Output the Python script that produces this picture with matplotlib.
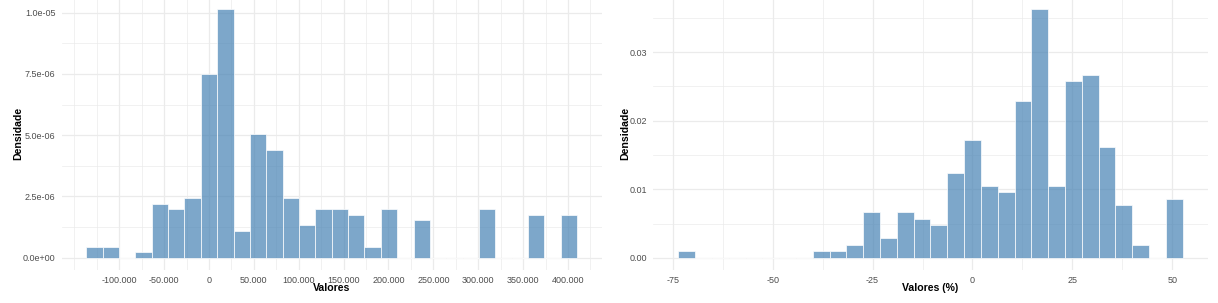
import numpy as np
import matplotlib
matplotlib.use("Agg")
import matplotlib.pyplot as plt
from matplotlib.ticker import FuncFormatter

# ---------------- data ----------------
# Left histogram (Valores): 30 bins
left_bin_start = -136700
left_bin_width = 18230
left_counts = [2, 2, 0, 1, 10, 9, 11, 34, 46, 5, 23, 20, 11, 6, 9, 9, 8, 2, 9, 0,
               7, 0, 0, 0, 9, 0, 0, 8, 0, 8]
left_major_ticks = [-100000, -50000, 0, 50000, 100000, 150000, 200000, 250000,
                    300000, 350000, 400000]
left_y_ticks = [0.0, 2.5e-6, 5.0e-6, 7.5e-6, 1.0e-5]

# Right histogram (Valores %): 30 bins
right_bin_start = -73.65
right_bin_width = 4.21
right_counts = [1, 0, 0, 0, 0, 0, 0, 0, 1, 1, 2, 7, 3, 7, 6, 5, 13, 18, 11, 10,
                24, 38, 11, 27, 28, 17, 8, 2, 0, 9]
right_major_ticks = [-75, -50, -25, 0, 25, 50]
right_y_ticks = [0.00, 0.01, 0.02, 0.03]

x_labels = ["Valores", "Valores (%)"]
y_label = "Densidade"

# ---------------- style ----------------
plt.rcParams['font.family'] = ['Liberation Sans', 'DejaVu Sans']
FILL = "#4682B4"
GRID = "#EBEBEB"
TICK_COL = "#4D4D4D"

W, H = 1218, 303
fig = plt.figure(figsize=(W / 100, H / 100), dpi=100)

def px_axes(x0, x1, top, bottom):
    return fig.add_axes([x0 / W, (H - bottom) / H, (x1 - x0) / W, (bottom - top) / H])

def draw_hist(ax, start, width, counts, majors, yticks, xfmt, yfmt, xlabel,
              ylab_x):
    n = len(counts)
    edges = start + width * np.arange(n + 1)
    centers = (edges[:-1] + edges[1:]) / 2
    dens, _, _ = ax.hist(centers, bins=edges, weights=counts, density=True,
                         color=FILL, alpha=0.7, edgecolor="white",
                         linewidth=0.7, zorder=3)
    # ggplot-like expansion
    xmin, xmax = edges[0], edges[-1]
    xr = xmax - xmin
    ax.set_xlim(xmin - 0.05 * xr, xmax + 0.05 * xr)
    ymax = dens.max()
    ax.set_ylim(-0.05 * ymax, 1.05 * ymax)

    # major / minor grid
    step = majors[1] - majors[0]
    lo, hi = ax.get_xlim()
    minors_x = np.arange(majors[0] - step, majors[-1] + step + 1e-9, step / 2)
    minors_x = [m for m in minors_x if lo <= m <= hi and
                not any(abs(m - M) < 1e-9 for M in majors)]
    ystep = yticks[1] - yticks[0]
    ylo, yhi = ax.get_ylim()
    minors_y = np.arange(yticks[0] - ystep, yticks[-1] + ystep * 1.0001, ystep / 2)
    minors_y = [m for m in minors_y if ylo <= m <= yhi and
                not any(abs(m - M) < ystep * 1e-6 for M in yticks)]
    for m in minors_x:
        ax.axvline(m, color=GRID, lw=0.5, zorder=0)
    for m in minors_y:
        ax.axhline(m, color=GRID, lw=0.5, zorder=0)
    for m in majors:
        ax.axvline(m, color=GRID, lw=0.9, zorder=0)
    for m in yticks:
        ax.axhline(m, color=GRID, lw=0.9, zorder=0)

    ax.set_xticks(majors)
    ax.set_yticks(yticks)
    ax.xaxis.set_major_formatter(FuncFormatter(xfmt))
    ax.yaxis.set_major_formatter(FuncFormatter(yfmt))
    ax.tick_params(length=0, labelsize=6.5, labelcolor=TICK_COL, pad=4.5)
    for s in ax.spines.values():
        s.set_visible(False)
    ax.set_facecolor("white")

    ax.set_xlabel(xlabel, fontsize=7.6, fontweight="bold", color="black", va="center")
    ax.set_ylabel(y_label, fontsize=7.6, fontweight="bold", color="black", va="center")
    ax.xaxis.set_label_coords(0.5, -0.066)
    ax.yaxis.set_label_coords(ylab_x, 0.5)


ax1 = px_axes(61.7, 601.7, -3.1, 270.2)
draw_hist(ax1, left_bin_start, left_bin_width, left_counts, left_major_ticks,
          left_y_ticks,
          lambda v, p: f"{int(round(v)):,}".replace(",", "."),
          lambda v, p: f"{v:.1e}",
          x_labels[0], (17.9 - 61.7) / 540)

ax2 = px_axes(653, 1208, -3.1, 270.2)
draw_hist(ax2, right_bin_start, right_bin_width, right_counts, right_major_ticks,
          right_y_ticks,
          lambda v, p: f"{int(round(v))}",
          lambda v, p: f"{v:.2f}",
          x_labels[1], (625.6 - 653) / 555)

fig.savefig("out.png", dpi=100, facecolor="white")
